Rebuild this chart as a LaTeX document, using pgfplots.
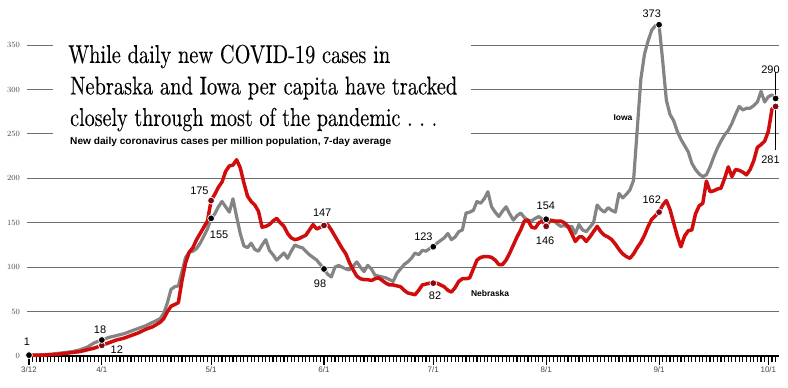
\documentclass[border=0pt]{standalone}
\usepackage{fontspec}
\usepackage{graphicx}
\usepackage{pgfplots}
\usepackage{pgfplotstable}
\pgfplotsset{compat=1.18}
\newfontfamily\sans{Liberation Sans}
\newfontfamily\titlefont[FakeBold=0.12]{lmroman10-regular.otf}
\definecolor{iowagray}{RGB}{132,132,132}
\definecolor{nebred}{RGB}{208,12,12}
\definecolor{dotred}{RGB}{125,10,20}
\definecolor{gridc}{RGB}{110,110,110}
\definecolor{ticklab}{RGB}{70,70,70}

\pgfplotstableread{
d v
0 1
2 1
4 1.5
6 2
8 3
10 4
12 5
14 7
16 10
18 15
20 18
22 21
24 23
26 25
28 28
30 31
32 34
34 38
36 42
37 48
38 60
39 75
40 78
41 79
42 95
43 111
44 117
45 118
46 121
47 127
48 135
49 143
50 155
51 160
52 168
53 174
54 168
55 162
56 177
57 157
58 138
59 124
60 122
61 127
62 120
63 118
64 125
65 131
66 119
67 114
68 108
69 112
70 116
71 110
72 118
73 125
74 123
75 122
76 118
77 114
78 111
79 108
80 103
81 98
82 92
83 89
84 100
85 102
86 100
87 98
88 97
89 101
90 106
91 100
92 95
93 102
94 98
95 91
96 90
97 89
98 88
99 86
100 84
101 93
102 98
103 103
104 106
105 110
106 116
107 114
108 119
109 118
110 121
111 123
112 127
113 130
114 133
115 138
116 131
117 134
118 140
119 142
120 161
121 162
122 164
123 174
124 172
125 177
126 185
127 168
128 162
129 157
130 163
131 168
132 160
133 153
134 158
135 161
136 156
137 153
138 152
139 155
140 157
141 154
142 154
143 151
144 153
145 149
146 146
147 147
148 145
149 146
150 138
151 148
152 142
153 140
154 145
155 150
156 170
157 165
158 162
159 167
160 164
161 162
162 183
163 178
164 182
165 187
166 198
167 255
168 312
169 340
170 355
171 367
172 372
173 373
174 332
175 288
176 272
177 265
178 253
179 244
180 237
181 230
182 217
183 210
184 205
185 202
186 204
187 213
188 224
189 234
190 242
191 249
192 254
193 262
194 272
195 281
196 277
197 279
198 279
199 282
200 286
201 298
202 286
203 292
204 294
205 290
}\iowa

\pgfplotstableread{
d v
0 1
2 1
4 1
6 1.5
8 2
10 3
12 4
14 5
16 7
18 9
20 12
22 15
24 18
26 20
28 23
30 26
32 30
34 33
36 38
37 42
38 50
39 56
40 58
41 60
42 85
43 105
44 117
45 122
46 131
47 138
48 145
49 152
50 175
51 182
52 190
53 196
54 208
55 214
56 215
57 221
58 212
59 195
60 180
61 174
62 170
63 163
64 145
65 146
66 148
67 152
68 155
69 150
70 146
71 138
72 133
73 131
74 132
75 134
76 136
77 142
78 148
79 143
80 145
81 147
82 148
83 142
84 135
85 128
86 121
87 115
88 105
89 97
90 90
91 87
92 86
93 86
94 85
95 87
96 88
97 85
98 82
99 80
100 80
101 79
102 78
103 74
104 71
105 70
106 69
107 74
108 80
109 81
110 82
111 82
112 82
113 80
114 78
115 74
116 72
117 77
118 84
119 87
120 87
121 88
122 98
123 108
124 111
125 112
126 112
127 111
128 108
129 103
130 103
131 108
132 116
133 125
134 134
135 142
136 152
137 153
138 145
139 144
140 150
141 152
142 146
143 153
144 152
145 152
146 152
147 150
148 146
149 138
150 129
151 134
152 134
153 129
154 134
155 140
156 146
157 140
158 136
159 134
160 131
161 126
162 120
163 115
164 112
165 110
166 115
167 122
168 128
169 136
170 146
171 154
172 158
173 162
174 170
175 175
176 165
177 150
178 135
179 123
180 135
181 141
182 142
183 160
184 169
185 172
186 197
187 185
188 186
189 188
190 189
191 200
192 213
193 202
194 210
195 209
196 207
197 204
198 210
199 220
200 235
201 238
202 242
203 253
204 278
205 281
}\nebraska

\pgfplotstableread{
d v
0 1
20 18
50 155
81 98
111 123
142 154
173 373
205 290
}\iowadots

\pgfplotstableread{
d v
20 12
50 175
81 147
111 82
142 146
173 162
205 281
}\nebdots

\begin{document}
\begin{tikzpicture}
\useasboundingbox (0,0) rectangle (788bp,388bp);
\begin{axis}[
  at={(27bp,32bp)}, anchor=south west,
  scale only axis, width=752bp, height=341.9bp,
  xmin=-0.55, xmax=205.93, ymin=0, ymax=385,
  axis x line=bottom, axis y line=left,
  x axis line style={line width=2bp,-,black},
  y axis line style={draw=none},
  ytick={0,50,...,350}, ytick style={draw=none},
  ymajorgrids, grid style={gridc, line width=1bp},
  yticklabel style={font=\sans\fontsize{8}{8}\selectfont, color=ticklab, anchor=east, inner sep=0pt, xshift=2bp},
  xtick={0,20,50,81,111,142,173,203},
  xticklabels={3/12,4/1,5/1,6/1,7/1,8/1,9/1,10/1},
  minor xtick={0,1,...,205},
  tick align=outside,
  major tick length=9bp, minor tick length=6bp,
  xtick style={black, line width=1.15bp},
  xticklabel style={font=\sans\fontsize{8}{8}\selectfont, color=ticklab, anchor=north, inner sep=0pt, yshift=-2bp},
  clip=false,
]
\fill[white] (axis cs:6.6,229.7) rectangle (axis cs:121.4,369);
\addplot[iowagray, line width=3.2bp, line join=round, no marks] table[x=d,y=v] {\iowa};
\addplot[nebred, line width=3.5bp, line join=round, no marks] table[x=d,y=v] {\nebraska};
\addplot[black, line width=0.9bp, no marks] coordinates {(205,290) (205,320)};
\addplot[black, line width=0.9bp, no marks] coordinates {(205,281) (205,232)};
\addplot[only marks, mark=*, mark size=3.4bp, mark options={fill=dotred, draw=white, line width=0.7bp}] table[x=d,y=v] {\nebdots};
\addplot[only marks, mark=*, mark size=3.4bp, mark options={fill=black, draw=white, line width=0.7bp}] table[x=d,y=v] {\iowadots};
\begin{scope}[every node/.style={font=\sans\fontsize{11}{11}\selectfont, inner sep=0pt}]
\node at (axis cs:-0.6,16.6) {1};
\node at (axis cs:19.5,30.1) {18};
\node at (axis cs:24.1,6.8) {12};
\node at (axis cs:46.8,186.1) {175};
\node at (axis cs:52.2,136.2) {155};
\node at (axis cs:80.5,161.8) {147};
\node at (axis cs:79.9,81.8) {98};
\node at (axis cs:108.3,134.3) {123};
\node at (axis cs:111.5,67.9) {82};
\node at (axis cs:141.9,168.9) {154};
\node at (axis cs:141.7,129.9) {146};
\node at (axis cs:171,385.9) {373};
\node at (axis cs:171,176.5) {162};
\node at (axis cs:203.6,322.8) {290};
\node at (axis cs:203.6,221.5) {281};
\end{scope}
\node[font=\sans\bfseries\fontsize{8.5}{8.5}\selectfont, inner sep=0pt] at (axis cs:163.1,268) {Iowa};
\node[font=\sans\bfseries\fontsize{8.5}{8.5}\selectfont, inner sep=0pt] at (axis cs:126.6,70.9) {Nebraska};
\end{axis}
\node[anchor=base west, inner sep=0pt] at (68bp,325bp) {\resizebox{322bp}{\height}{\titlefont\fontsize{26}{30}\selectfont While daily new COVID-19 cases in}};
\node[anchor=base west, inner sep=0pt] at (70bp,293.5bp) {\resizebox{387bp}{\height}{\titlefont\fontsize{26}{30}\selectfont Nebraska and Iowa per capita have tracked}};
\node[anchor=base west, inner sep=0pt] at (70bp,262bp) {\resizebox{367bp}{\height}{\titlefont\fontsize{26}{30}\selectfont closely through most of the pandemic\ .\ .\ .}};
\node[anchor=base west, inner sep=0pt] at (70bp,243bp) {\resizebox{321bp}{\height}{\sans\bfseries\fontsize{10}{10}\selectfont New daily coronavirus cases per million population, 7-day average}};
\end{tikzpicture}
\end{document}
